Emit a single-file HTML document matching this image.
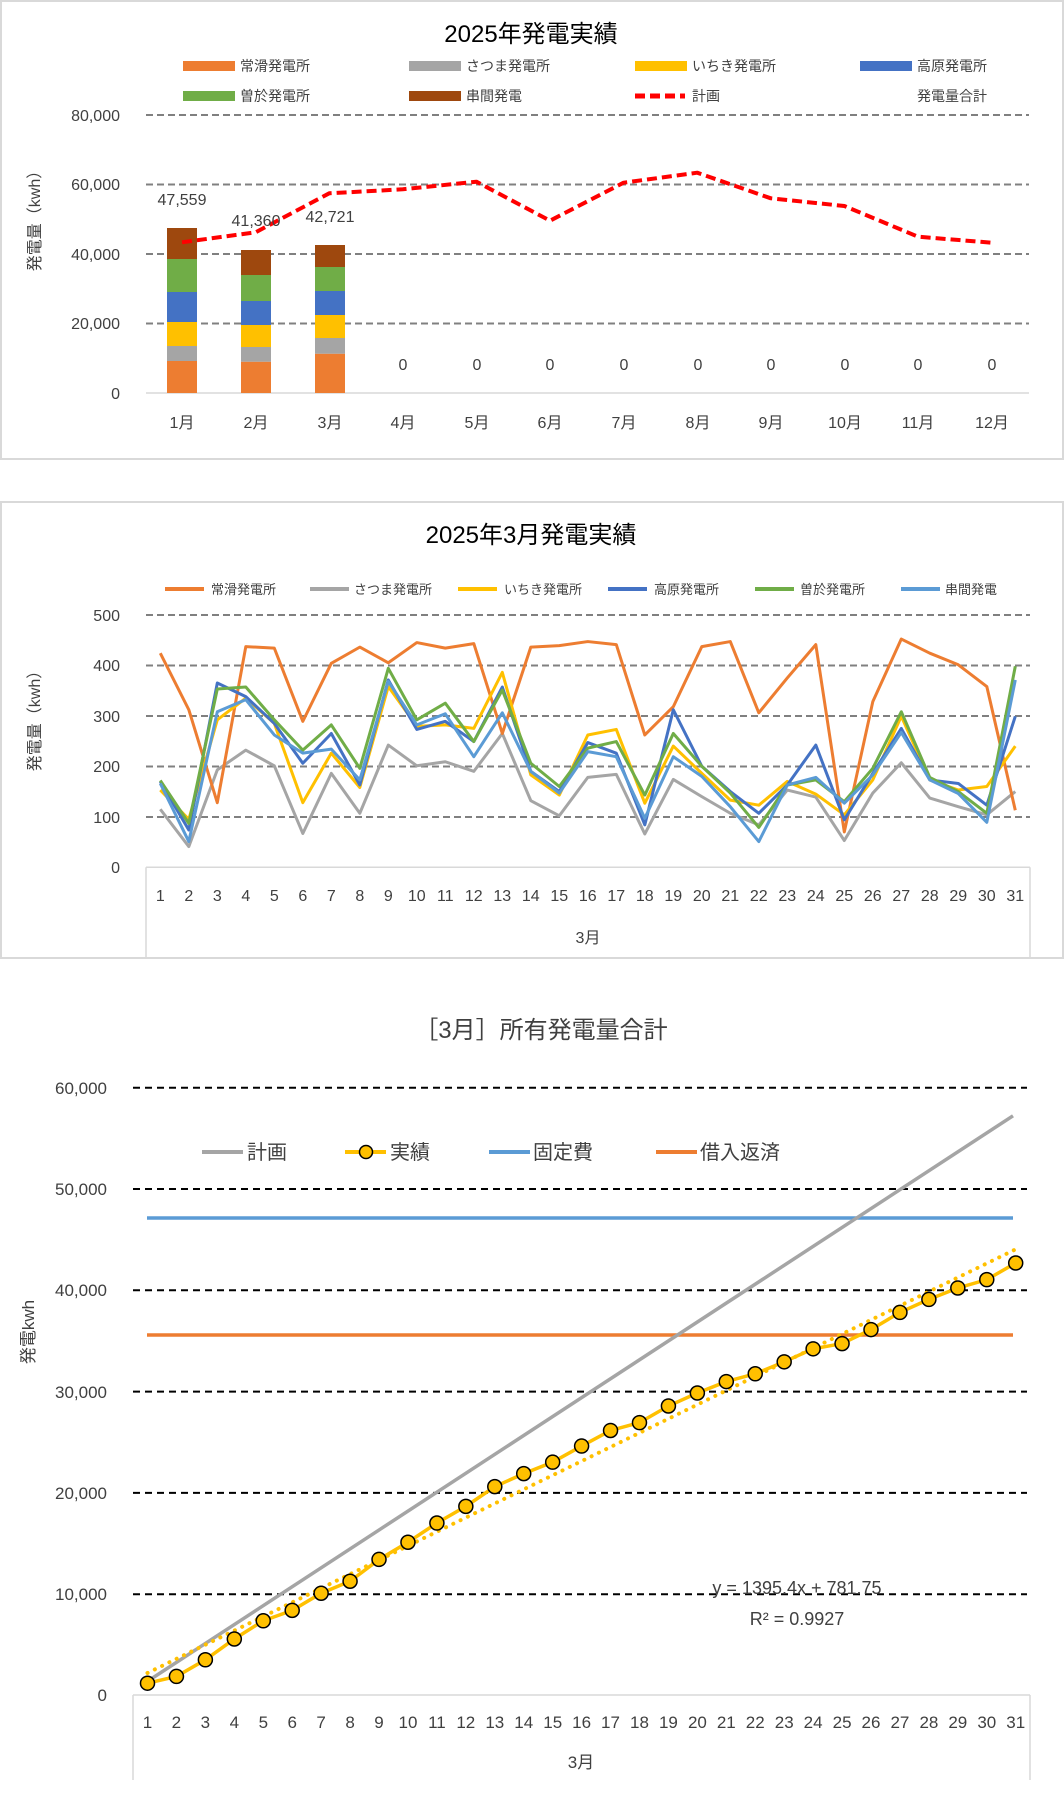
<!DOCTYPE html>
<html><head><meta charset="utf-8"><style>
html,body{margin:0;padding:0;background:#fff}
svg{display:block}
text{font-family:"Liberation Sans","Noto Sans CJK JP",sans-serif;fill:#404040}
</style></head><body>
<svg id="s" width="1064" height="1806" viewBox="0 0 1064 1806" xmlns="http://www.w3.org/2000/svg">
<!-- Chart 1 -->
<rect x="1" y="1" width="1062" height="458" fill="#fff" stroke="#d9d9d9" stroke-width="2"/>
<text x="531" y="42" font-size="24" text-anchor="middle" fill="#000" style="fill:#000">2025年発電実績</text>
<g font-size="14">
<rect x="183" y="61" width="52" height="10" fill="#ed7d31"/><text x="240" y="71">常滑発電所</text>
<rect x="409" y="61" width="52" height="10" fill="#a5a5a5"/><text x="466" y="71">さつま発電所</text>
<rect x="635" y="61" width="52" height="10" fill="#ffc000"/><text x="692" y="71">いちき発電所</text>
<rect x="860" y="61" width="52" height="10" fill="#4472c4"/><text x="917" y="71">高原発電所</text>
<rect x="183" y="91" width="52" height="10" fill="#70ad47"/><text x="240" y="101">曽於発電所</text>
<rect x="409" y="91" width="52" height="10" fill="#9e480e"/><text x="466" y="101">串間発電</text>
<line x1="635" y1="96" x2="685" y2="96" stroke="#ff0000" stroke-width="5" stroke-dasharray="10,5"/><text x="692" y="101">計画</text>
<text x="917" y="101">発電量合計</text>
</g>
<g stroke="#808080" stroke-width="2" stroke-dasharray="7,4">
<line x1="146" y1="115" x2="1029" y2="115"/><line x1="146" y1="184.5" x2="1029" y2="184.5"/><line x1="146" y1="254" x2="1029" y2="254"/><line x1="146" y1="323.5" x2="1029" y2="323.5"/>
</g>
<line x1="146" y1="393" x2="1029" y2="393" stroke="#d9d9d9" stroke-width="1.5"/>
<g font-size="16" text-anchor="end">
<text x="120" y="121">80,000</text><text x="120" y="190">60,000</text><text x="120" y="260">40,000</text><text x="120" y="329">20,000</text><text x="120" y="399">0</text>
</g>
<text transform="translate(40,217) rotate(-90)" font-size="16" text-anchor="middle">発電量（kwh）</text>
<g id="bars"></g>
<polyline id="plan1" fill="none" stroke="#ff0000" stroke-width="4" stroke-dasharray="10,5" stroke-linejoin="round"/>
<g font-size="16" text-anchor="middle">
<text x="182" y="205">47,559</text><text x="256" y="226">41,360</text><text x="330" y="222">42,721</text>
<text x="403" y="370">0</text><text x="477" y="370">0</text><text x="550" y="370">0</text><text x="624" y="370">0</text><text x="698" y="370">0</text><text x="771" y="370">0</text><text x="845" y="370">0</text><text x="918" y="370">0</text><text x="992" y="370">0</text>
</g>
<g font-size="16" text-anchor="middle">
<text x="182" y="428">1月</text><text x="256" y="428">2月</text><text x="330" y="428">3月</text><text x="403" y="428">4月</text><text x="477" y="428">5月</text><text x="550" y="428">6月</text><text x="624" y="428">7月</text><text x="698" y="428">8月</text><text x="771" y="428">9月</text><text x="845" y="428">10月</text><text x="918" y="428">11月</text><text x="992" y="428">12月</text>
</g>

<!-- Chart 2 -->
<rect x="1" y="502" width="1062" height="456" fill="#fff" stroke="#d9d9d9" stroke-width="2"/>
<text x="531" y="543" font-size="24" text-anchor="middle" style="fill:#000">2025年3月発電実績</text>
<g font-size="13" stroke-width="4">
<line x1="165" y1="589" x2="204" y2="589" stroke="#ed7d31"/><text x="211" y="594" stroke="none">常滑発電所</text>
<line x1="310" y1="589" x2="349" y2="589" stroke="#a5a5a5"/><text x="354" y="594" stroke="none">さつま発電所</text>
<line x1="458" y1="589" x2="497" y2="589" stroke="#ffc000"/><text x="504" y="594" stroke="none">いちき発電所</text>
<line x1="608" y1="589" x2="647" y2="589" stroke="#4472c4"/><text x="654" y="594" stroke="none">高原発電所</text>
<line x1="755" y1="589" x2="794" y2="589" stroke="#70ad47"/><text x="800" y="594" stroke="none">曽於発電所</text>
<line x1="901" y1="589" x2="940" y2="589" stroke="#5b9bd5"/><text x="945" y="594" stroke="none">串間発電</text>
</g>
<g stroke="#808080" stroke-width="2" stroke-dasharray="7,4">
<line x1="146" y1="615" x2="1030" y2="615"/><line x1="146" y1="665.5" x2="1030" y2="665.5"/><line x1="146" y1="716" x2="1030" y2="716"/><line x1="146" y1="766.5" x2="1030" y2="766.5"/><line x1="146" y1="817" x2="1030" y2="817"/>
</g>
<path d="M146 867.3H1030M146 867.3V958M1030 867.3V958" stroke="#d9d9d9" stroke-width="1.5" fill="none"/>
<g font-size="16" text-anchor="end">
<text x="120" y="621">500</text><text x="120" y="671">400</text><text x="120" y="722">300</text><text x="120" y="772">200</text><text x="120" y="823">100</text><text x="120" y="873">0</text>
</g>
<text transform="translate(40,717) rotate(-90)" font-size="16" text-anchor="middle">発電量（kwh）</text>
<g id="lines2" fill="none" stroke-width="3" stroke-linejoin="round"></g>
<g font-size="16" text-anchor="middle" id="d2">
<text x="160.3" y="901">1</text><text x="188.8" y="901">2</text><text x="217.3" y="901">3</text><text x="245.8" y="901">4</text><text x="274.3" y="901">5</text><text x="302.8" y="901">6</text><text x="331.3" y="901">7</text><text x="359.8" y="901">8</text><text x="388.3" y="901">9</text><text x="416.8" y="901">10</text><text x="445.3" y="901">11</text><text x="473.8" y="901">12</text><text x="502.3" y="901">13</text><text x="530.8" y="901">14</text><text x="559.3" y="901">15</text><text x="587.8" y="901">16</text><text x="616.3" y="901">17</text><text x="644.8" y="901">18</text><text x="673.3" y="901">19</text><text x="701.8" y="901">20</text><text x="730.3" y="901">21</text><text x="758.8" y="901">22</text><text x="787.3" y="901">23</text><text x="815.8" y="901">24</text><text x="844.3" y="901">25</text><text x="872.8" y="901">26</text><text x="901.3" y="901">27</text><text x="929.8" y="901">28</text><text x="958.3" y="901">29</text><text x="986.8" y="901">30</text><text x="1015.3" y="901">31</text>
</g>
<text x="588" y="943" font-size="16" text-anchor="middle">3月</text>

<!-- Chart 3 -->
<text x="541" y="1038" font-size="24" text-anchor="middle">［3月］所有発電量合計</text>
<g stroke="#000" stroke-width="2" stroke-dasharray="7,5">
<line x1="133" y1="1087.7" x2="1027" y2="1087.7"/><line x1="133" y1="1189" x2="1027" y2="1189"/><line x1="133" y1="1290.3" x2="1027" y2="1290.3"/><line x1="133" y1="1391.6" x2="1027" y2="1391.6"/><line x1="133" y1="1492.9" x2="1027" y2="1492.9"/><line x1="133" y1="1594.2" x2="1027" y2="1594.2"/>
</g>
<path d="M133 1695H1030M133 1695V1780M1030 1695V1780" stroke="#d9d9d9" stroke-width="1.5" fill="none"/>
<g font-size="17" text-anchor="end">
<text x="107" y="1094">60,000</text><text x="107" y="1195">50,000</text><text x="107" y="1296">40,000</text><text x="107" y="1398">30,000</text><text x="107" y="1499">20,000</text><text x="107" y="1600">10,000</text><text x="107" y="1701">0</text>
</g>
<text transform="translate(34,1332) rotate(-90)" font-size="17" text-anchor="middle">発電kwh</text>
<g font-size="20">
<line x1="202" y1="1152" x2="243" y2="1152" stroke="#a5a5a5" stroke-width="4"/><text x="247" y="1159">計画</text>
<line x1="345" y1="1152" x2="386" y2="1152" stroke="#ffc000" stroke-width="4"/><circle cx="366" cy="1152" r="6.5" fill="#ffc000" stroke="#000" stroke-width="1.5"/><text x="390" y="1159">実績</text>
<line x1="489" y1="1152" x2="530" y2="1152" stroke="#5b9bd5" stroke-width="4"/><text x="533" y="1159">固定費</text>
<line x1="656" y1="1152" x2="697" y2="1152" stroke="#ed7d31" stroke-width="4"/><text x="700" y="1159">借入返済</text>
</g>
<line x1="147" y1="1218" x2="1013" y2="1218" stroke="#5b9bd5" stroke-width="3.5"/>
<line x1="147" y1="1335" x2="1013" y2="1335" stroke="#ed7d31" stroke-width="3.5"/>
<line x1="147" y1="1681.6" x2="1013" y2="1115.8" stroke="#a5a5a5" stroke-width="3.5"/>
<g id="c3"></g>
<text x="797" y="1594" font-size="18" text-anchor="middle">y = 1395.4x + 781.75</text>
<text x="797" y="1625" font-size="18" text-anchor="middle">R² = 0.9927</text>
<g font-size="17" text-anchor="middle">
<text x="147.5" y="1728">1</text><text x="176.4" y="1728">2</text><text x="205.4" y="1728">3</text><text x="234.3" y="1728">4</text><text x="263.3" y="1728">5</text><text x="292.2" y="1728">6</text><text x="321.1" y="1728">7</text><text x="350.1" y="1728">8</text><text x="379" y="1728">9</text><text x="408" y="1728">10</text><text x="436.9" y="1728">11</text><text x="465.8" y="1728">12</text><text x="494.8" y="1728">13</text><text x="523.7" y="1728">14</text><text x="552.7" y="1728">15</text><text x="581.6" y="1728">16</text><text x="610.5" y="1728">17</text><text x="639.5" y="1728">18</text><text x="668.4" y="1728">19</text><text x="697.4" y="1728">20</text><text x="726.3" y="1728">21</text><text x="755.2" y="1728">22</text><text x="784.2" y="1728">23</text><text x="813.1" y="1728">24</text><text x="842.1" y="1728">25</text><text x="871" y="1728">26</text><text x="899.9" y="1728">27</text><text x="928.9" y="1728">28</text><text x="957.8" y="1728">29</text><text x="986.8" y="1728">30</text><text x="1015.7" y="1728">31</text>
</g>
<text x="581" y="1768" font-size="17" text-anchor="middle">3月</text>
</svg>
<script>
var NS="http://www.w3.org/2000/svg";
function el(p,t,a){var e=document.createElementNS(NS,t);for(var k in a)e.setAttribute(k,a[k]);p.appendChild(e);return e;}
// chart1 bars
var bars=document.getElementById("bars");
var cols=["#ed7d31","#a5a5a5","#ffc000","#4472c4","#70ad47","#9e480e"];
var segs=[[393,361,346,322,292,259,228],[393,361.7,347,325,301,275,250],[393,353.7,338,315,291,267,245]];
var cx=[182,256,330];
segs.forEach(function(s,i){for(var j=0;j<6;j++){el(bars,"rect",{x:cx[i]-15,y:s[j+1],width:30,height:s[j]-s[j+1],fill:cols[j]});}});
var py=[242.3,232.3,193.3,189.3,181.7,220.7,182.7,172.7,198.3,206,236.7,242.7];
var pts=py.map(function(y,i){return (182+i*73.6)+","+y}).join(" ");
document.getElementById("plan1").setAttribute("points",pts);
// chart2
var d=[
["#a5a5a5",[115,41,193,232,201,67,186,107,242,201,209,190,265,132,102,178,184,66,174,140,107,84,153,139,53,147,207,137,120,104,150]],
["#ed7d31",[424,312,128,437,434,289,404,436,405,445,434,443,265,436,439,447,441,262,318,437,447,306,375,441,70,328,452,424,401,358,113]],
["#ffc000",[153,95,292,335,285,128,226,158,358,279,282,275,386,183,143,262,273,127,240,186,133,123,170,145,104,173,299,173,153,160,240]],
["#4472c4",[170,74,365,338,285,206,265,163,371,273,289,249,357,190,150,247,226,84,312,200,150,107,163,242,94,186,275,173,166,123,299]],
["#70ad47",[172,87,353,357,292,232,282,196,394,292,325,249,351,206,160,236,249,143,265,200,147,79,163,173,130,196,308,178,150,107,398]],
["#5b9bd5",[166,51,308,332,262,226,234,173,368,282,304,219,306,190,147,229,219,97,219,180,120,51,163,178,127,183,267,173,146,89,371]]];
var g2=document.getElementById("lines2");
d.forEach(function(s){el(g2,"polyline",{stroke:s[0],points:s[1].map(function(v,i){return (160.3+i*28.5)+","+(867.3-v*0.505)}).join(" ")});});
// chart3
var zy=[1333,1320,1288,1248,1213,1193,1160,1137,1095,1062,1025,993,955,930,908,877,847,832,800,775,753,738,715,690,680,653,620,595,573,557,525];
var g3=document.getElementById("c3");
function X(i){return 147.5+i*28.94}
var tp=[];for(var i=0;i<31;i++){var v=1395.4*(i+1)+781.75;tp.push(X(i)+","+(1695-v*0.010121));}
el(g3,"polyline",{points:tp.join(" "),fill:"none",stroke:"#ffc000","stroke-width":4,"stroke-dasharray":"0.1,8","stroke-linecap":"round"});
var ap=zy.map(function(z,i){return X(i)+","+(990+z/1.923)});
el(g3,"polyline",{points:ap.join(" "),fill:"none",stroke:"#ffc000","stroke-width":3.5});
zy.forEach(function(z,i){el(g3,"circle",{cx:X(i),cy:990+z/1.923,r:7,fill:"#ffc000",stroke:"#000","stroke-width":1.5});});
</script>
</body></html>
